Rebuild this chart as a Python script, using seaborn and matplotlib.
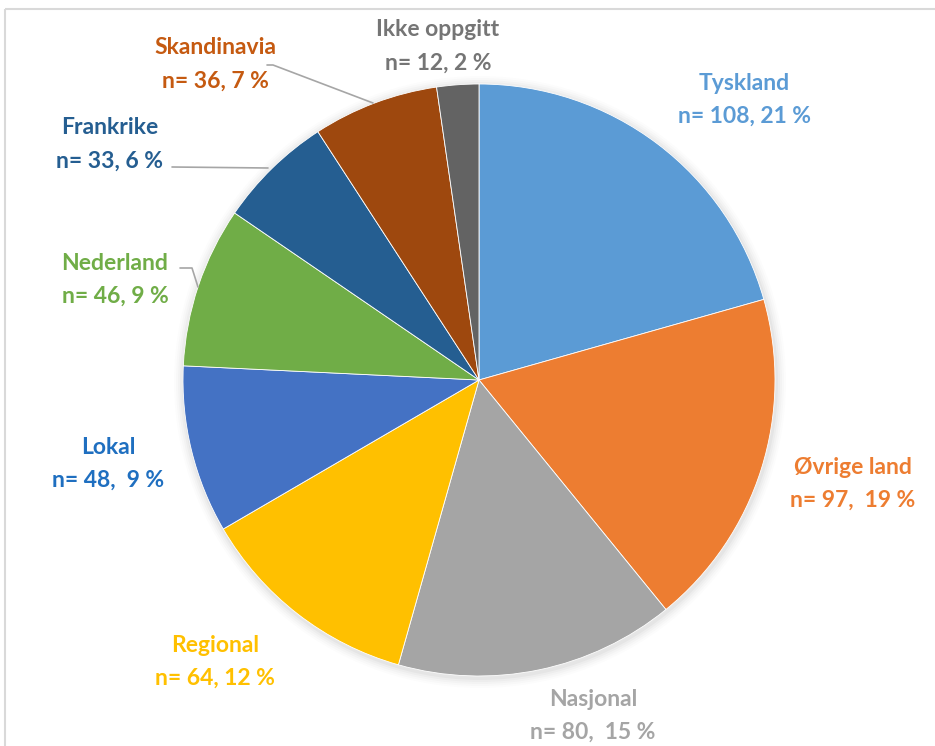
import matplotlib
matplotlib.use("Agg")
import matplotlib.pyplot as plt
import seaborn as sns

categories = ["Tyskland", "Øvrige land", "Nasjonal", "Regional", "Lokal",
              "Nederland", "Frankrike", "Skandinavia", "Ikke oppgitt"]
counts = [108, 97, 80, 64, 48, 46, 33, 36, 12]
value_labels = ["n= 108, 21 %", "n= 97,  19 %", "n= 80,  15 %", "n= 64, 12 %",
                "n= 48,  9 %", "n= 46, 9 %", "n= 33, 6 %", "n= 36, 7 %", "n= 12, 2 %"]

slice_colors = ["#5B9BD5", "#ED7D31", "#A5A5A5", "#FFC000", "#4472C4",
                "#70AD47", "#255E91", "#9E480E", "#636363"]
text_colors = ["#5B9BD5", "#ED7D31", "#A5A5A5", "#FFC000", "#1F6FC0",
               "#70AD47", "#255E91", "#C55A11", "#757575"]
# label centre positions in pixels (x, y of first line)
label_pos = [(744, 83), (853, 467), (593, 699), (215, 645), (108, 447),
             (115, 263), (110, 128), (215, 48), (438, 30)]

sns.set_theme(style="white")
plt.rcParams["font.family"] = ["Lato", "DejaVu Sans"]

W, H = 935, 746
fig = plt.figure(figsize=(W / 100, H / 100), dpi=100)
ax = fig.add_axes([0, 0, 1, 1])
ax.set_xlim(0, W)
ax.set_ylim(0, H)
ax.set_aspect("equal")
ax.axis("off")

cx, cy, r = 479, H - 380, 296

# soft shadow
for i, a in enumerate([0.03, 0.025, 0.02, 0.015, 0.01]):
    c = plt.Circle((cx + 1, cy - 2), r + 2 + i * 2, color="black", alpha=a, lw=0, zorder=0)
    ax.add_patch(c)

ax.pie(counts, colors=slice_colors, startangle=90, counterclock=False,
       center=(cx, cy), radius=r, frame=True,
       wedgeprops=dict(edgecolor="white", linewidth=0.6))
ax.set_xlim(0, W)
ax.set_ylim(0, H)
ax.axis("off")

for name, val, col, (px, py) in zip(categories, value_labels, text_colors, label_pos):
    ax.text(px, H - py, name, color=col, fontsize=16.5, fontweight="bold",
            ha="center", va="center", zorder=5)
    ax.text(px, H - py - 33, val, color=col, fontsize=16.5, fontweight="bold",
            ha="center", va="center", zorder=5)

lc = "#A6A6A6"
# leader lines
ax.plot([267, 273, 373], [H - 65, H - 65, H - 103], color=lc, lw=1.2, zorder=4)
ax.plot([172, 268], [H - 167, H - 168], color=lc, lw=1.2, zorder=4)
ax.plot([180, 192, 198], [H - 268, H - 268, H - 287], color=lc, lw=1.2, zorder=4)

# frame
ax.plot([5, 5], [0, H - 9], color="#D9D9D9", lw=1.5, zorder=1, solid_capstyle="butt")
ax.plot([5, W], [H - 9, H - 9], color="#D9D9D9", lw=1.5, zorder=1, solid_capstyle="butt")

fig.savefig("out.png", dpi=100, facecolor="white")
